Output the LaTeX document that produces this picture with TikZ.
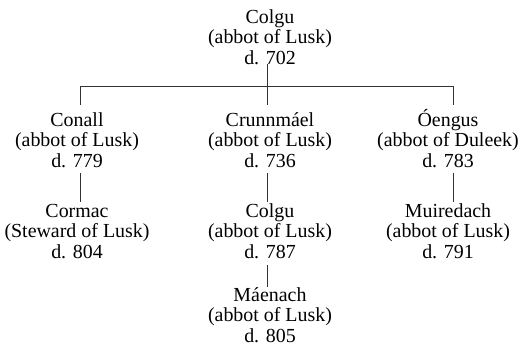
\documentclass[tikz,border=0pt]{standalone}
\usepackage{fontspec}
\setmainfont{Liberation Serif}
\begin{document}
\begin{tikzpicture}[x=1bp,y=-1bp,
  person/.style={align=center, inner sep=0pt, anchor=base,
    font=\fontsize{20}{20.5}\selectfont},
  link/.style={line width=1bp, draw=black!80}]
\useasboundingbox (0,0) rectangle (523,345);

% family members (placed by the baseline of their last line)
\node[person] (colgu)    at (270,64)  {Colgu\\(abbot of Lusk)\\d. 702};
\node[person] (conall)   at (77,167)  {Conall\\(abbot of Lusk)\\d. 779};
\node[person] (crunn)    at (270,167) {Crunnmáel\\(abbot of Lusk)\\d. 736};
\node[person] (oengus)   at (448,167) {Óengus\\(abbot of Duleek)\\d. 783};
\node[person] (cormac)   at (77,258)  {Cormac\\(Steward of Lusk)\\d. 804};
\node[person] (colgutwo) at (270,258) {Colgu\\(abbot of Lusk)\\d. 787};
\node[person] (muired)   at (448,258) {Muiredach\\(abbot of Lusk)\\d. 791};
\node[person] (maenach)  at (270,342) {Máenach\\(abbot of Lusk)\\d. 805};

% branching bar under the founder
\coordinate (b1) at (80,86);
\coordinate (b2) at (267,86);
\coordinate (b3) at (453,86);
\coordinate (d1) at (80,105);
\coordinate (d2) at (267,105);
\coordinate (d3) at (453,105);

\draw[link] (colgu.south -| b2) -- (b2);
\draw[link] (b1) -- (b3);
\draw[link] (b1) -- (d1);
\draw[link] (b2) -- (d2);
\draw[link] (b3) -- (d3);

% single lines of descent
\draw[link] ([yshift=-6bp]conall.south -| b1) -- ([yshift=1.5bp]cormac.north -| b1);
\draw[link] ([yshift=-6bp]crunn.south -| b2) -- ([yshift=1.5bp]colgutwo.north -| b2);
\draw[link] ([yshift=-6bp]oengus.south -| b3) -- ([yshift=1.5bp]muired.north -| b3);
\draw[link] ([yshift=-7bp]colgutwo.south -| b2) -- (maenach.north -| b2);
\end{tikzpicture}
\end{document}
